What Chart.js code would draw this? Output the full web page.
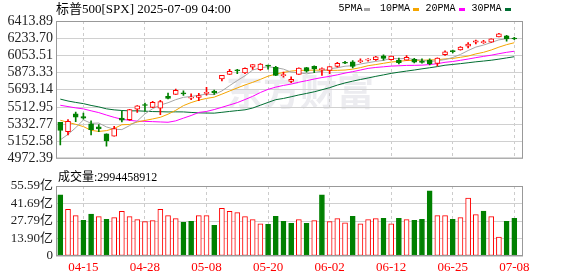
<!DOCTYPE html>
<html>
<head>
<meta charset="utf-8">
<script src="https://cdn.jsdelivr.net/npm/chart.js@4.4.0/dist/chart.umd.min.js"></script>
<style>
  body { margin: 0; background: #fff; }
  #wrap { position: relative; width: 578px; height: 276px; overflow: hidden; font-family: "Liberation Serif", "Noto Sans CJK SC", serif; color: #000; }
  #title { position: absolute; left: 56px; top: 0px; font-size: 13px; line-height: 17px; white-space: nowrap; }
  .lg { position: absolute; top: 2px; font-family: "Liberation Mono", monospace; font-size: 10px; line-height: 13px; white-space: nowrap; }
  .lgbox { position: absolute; top: 8px; width: 6px; height: 3px; }
  #volLabel { position: absolute; left: 58px; top: 169px; font-size: 12px; line-height: 16px; white-space: nowrap; }
  canvas { position: absolute; left: 0; }
</style>
</head>
<body>
<div id="wrap">
  <canvas id="priceChart" width="578" height="170" style="top:0"></canvas>
  <canvas id="volChart" width="578" height="106" style="top:170px"></canvas>
  <div id="title">标普500[SPX] 2025-07-09 04:00</div>
  <div id="legend"></div>
  <div id="volLabel">成交量:2994458912</div>
</div>
<script>
// trading days shown
const dates = ['04-10','04-11','04-14','04-15','04-16','04-17','04-21','04-22','04-23','04-24','04-25','04-28','04-29','04-30',
  '05-01','05-02','05-05','05-06','05-07','05-08','05-09','05-12','05-13','05-14','05-15','05-16','05-19','05-20','05-21','05-22','05-23','05-27','05-28','05-29','05-30',
  '06-02','06-03','06-04','06-05','06-06','06-09','06-10','06-11','06-12','06-13','06-16','06-17','06-18','06-20','06-23','06-24','06-25','06-26','06-27','06-30',
  '07-01','07-02','07-03','07-07','07-08'];
const dateTicks = ['04-15','04-28','05-08','05-20','06-02','06-12','06-25','07-08'];

const openP = [5353.15,5255.56,5441.96,5411.99,5335.75,5305.45,5232.94,5207.67,5395.93,5381.38,5489.73,5529.22,5508.87,5499.44,
  5625.14,5645.02,5655.32,5605.88,5613.16,5655.00,5679.15,5807.36,5854.29,5896.00,5869.19,5929.09,5902.88,5944.66,5928.37,5841.26,5781.89,5854.07,5925.54,5939.92,5903.67,
  5896.68,5938.56,5978.94,5985.67,5987.06,6004.60,6009.91,6049.38,6009.90,6000.56,6004.00,6012.15,5987.93,6004.60,5969.67,6061.21,6104.17,6112.10,6150.70,6193.36,
  6187.25,6193.23,6246.49,6259.75,6229.98];
const highP = [5353.15,5381.46,5459.46,5450.41,5367.24,5328.31,5232.94,5309.60,5469.69,5489.40,5528.11,5553.66,5571.95,5581.84,
  5658.91,5700.70,5683.56,5649.88,5654.94,5720.10,5691.33,5844.19,5906.63,5906.63,5924.21,5958.62,5968.61,5953.06,5939.92,5878.08,5829.51,5924.33,5929.00,5943.13,5922.14,
  5937.40,5981.35,5990.48,5999.70,6016.87,6021.31,6043.01,6059.40,6045.43,6026.16,6050.83,6023.25,6018.25,6018.20,6028.18,6101.81,6108.51,6146.52,6187.68,6215.08,
  6210.78,6227.60,6284.65,6262.67,6242.70];
const lowP = [5115.27,5220.77,5358.02,5386.44,5220.79,5255.58,5101.63,5207.67,5356.21,5371.96,5455.86,5468.64,5505.70,5433.24,
  5597.35,5644.77,5634.48,5589.08,5580.01,5635.68,5644.86,5786.08,5853.20,5862.19,5863.05,5907.28,5895.69,5909.26,5839.94,5825.82,5767.41,5854.07,5878.08,5873.80,5843.66,
  5861.43,5929.00,5966.11,5921.20,5978.63,5994.18,5999.87,6002.32,6003.88,5963.21,6004.00,5975.42,5971.89,5952.56,5943.23,6054.61,6080.07,6107.34,6132.35,6174.97,
  6177.97,6188.29,6246.49,6201.44,6217.68];
const closeP = [5268.05,5363.36,5405.97,5396.63,5275.70,5282.70,5158.20,5287.76,5375.86,5484.77,5525.21,5528.75,5560.83,5569.06,
  5604.14,5686.67,5650.38,5606.91,5631.28,5663.94,5659.91,5844.19,5886.55,5892.58,5916.93,5958.38,5963.60,5940.46,5844.61,5842.01,5802.82,5921.54,5888.55,5912.17,5911.69,
  5935.94,5970.37,5970.81,5939.30,6000.36,6005.88,6038.81,6022.24,6045.26,5976.97,6033.11,5982.72,5980.87,5967.84,6025.17,6092.18,6092.16,6141.02,6173.07,6204.95,
  6198.01,6227.42,6279.35,6229.98,6225.52];
const prevClose = 5456.90; // close before the first shown day

const ma5 = [5168.8,5226.6,5295.4,5378.2,5342.0,5345.0,5304.0,5280.4,5276.2,5318.0,5366.4,5440.6,5495.2,5533.8,5557.6,5590.0,5614.2,5623.4,5635.8,5647.8,
  5642.4,5681.2,5737.2,5789.6,5840.2,5899.8,5923.8,5934.4,5924.8,5909.8,5878.8,5870.4,5860.2,5873.6,5887.6,5914.2,5923.8,5940.2,5945.6,5963.2,
  5977.2,5991.0,6001.2,6022.4,6017.8,6023.2,6012.0,6003.8,5988.4,5998.0,6009.8,6031.6,6063.6,6104.6,6140.6,6161.8,6188.8,6216.4,6227.8,6232.0];
const ma10 = [5373.8,5352.0,5331.4,5307.8,5268.3,5256.9,5265.3,5287.9,5327.2,5330.0,5355.7,5372.3,5387.8,5405.0,5437.8,5478.2,5527.4,5559.3,5584.8,5602.7,
  5616.2,5647.7,5680.3,5712.7,5744.0,5771.1,5802.5,5835.8,5857.2,5875.0,5889.3,5897.1,5897.3,5899.2,5898.7,5896.5,5897.1,5900.2,5909.6,5925.4,
  5945.7,5957.4,5970.7,5984.0,5990.5,6000.2,6001.5,6002.5,6005.4,6007.9,6016.5,6021.8,6033.7,6046.5,6069.3,6085.8,6110.2,6140.0,6166.2,6186.3];
const ma20 = [5531.2,5517.4,5503.9,5493.0,5473.1,5454.1,5428.6,5404.6,5384.5,5373.2,5364.8,5362.2,5359.6,5356.4,5353.1,5367.6,5396.4,5423.6,5456.0,5466.4,
  5486.0,5510.0,5534.1,5558.9,5590.9,5624.7,5665.0,5697.6,5721.0,5738.9,5752.8,5772.4,5788.8,5806.0,5821.4,5833.8,5849.8,5868.0,5883.4,5900.2,
  5917.5,5927.3,5934.0,5941.6,5944.6,5948.4,5949.3,5951.4,5957.5,5966.7,5981.1,5989.6,6002.2,6015.3,6029.9,6043.0,6055.9,6071.3,6085.8,6097.1];
const ma30 = [5595.5,5575.8,5561.0,5548.3,5529.4,5514.2,5493.8,5482.9,5476.4,5472.6,5472.7,5469.0,5465.2,5463.7,5461.3,5462.1,5461.5,5456.1,5451.3,5449.7,
  5448.6,5457.3,5466.5,5475.2,5483.4,5502.1,5531.7,5561.0,5589.7,5602.6,5620.4,5639.0,5655.1,5672.3,5693.5,5715.3,5742.3,5765.1,5783.9,5801.0,
  5817.1,5834.1,5849.4,5865.3,5877.7,5889.3,5900.4,5912.8,5924.1,5936.1,5950.5,5958.8,5967.2,5976.6,5986.2,5994.2,6002.9,6014.2,6027.1,6039.9];

// volume in 亿 (1e8)
const volume = [48.6,37.0,32.1,28.3,33.2,31.3,29.1,30.5,35.4,31.3,28.9,27.3,28.1,37.0,32.1,29.7,26.7,27.5,32.1,32.1,
  24.3,37.8,35.4,34.5,31.3,28.9,25.6,25.1,31.6,27.5,25.9,28.9,25.9,28.1,48.6,27.3,29.7,26.4,31.6,25.6,
  28.9,29.7,30.0,25.6,30.0,28.9,28.3,29.1,51.8,32.1,32.1,29.1,30.5,45.9,32.9,35.6,31.3,15.1,27.5,29.94];

const priceTicks = ['4972.39','5152.58','5332.77','5512.95','5693.14','5873.33','6053.51','6233.70','6413.89'];
const volTicks = ['0','13.90','27.79','41.69','55.59'];

const maNames = ['5PMA','10PMA','20PMA','30PMA'];
const maColors = ['#a6a6a6','#f5a500','#ff00ff','#006e32'];

const RED = '#ff0000';
const GREEN = '#008000';
const X_MIN = -0.56, X_MAX = 60.13;
const tickIdx = dateTicks.map(d => dates.indexOf(d));

// legend (text then a small colour box, like the original)
const legendPos = [[338.5, 364], [380, 413], [425.5, 459], [471.5, 505]];
const legend = document.getElementById('legend');
maNames.forEach((name, i) => {
  const t = document.createElement('span');
  t.className = 'lg';
  t.style.left = legendPos[i][0] + 'px';
  t.textContent = name;
  legend.appendChild(t);
  const b = document.createElement('span');
  b.className = 'lgbox';
  b.style.left = legendPos[i][1] + 'px';
  b.style.background = maColors[i];
  legend.appendChild(b);
});

const candleUp = closeP.map((c, i) => c >= openP[i]);
const volUp = closeP.map((c, i) => c >= (i === 0 ? prevClose : closeP[i - 1]));

const frame = {
  id: 'frame',
  afterDraw(chart) {
    const { ctx, chartArea: a } = chart;
    ctx.save();
    ctx.strokeStyle = '#999';
    ctx.lineWidth = 1;
    ctx.strokeRect(a.left + 0.5, a.top + 0.5, a.right - a.left - 1, a.bottom - a.top - 1);
    ctx.restore();
  }
};

const watermark = {
  id: 'watermark',
  beforeDraw(chart) {
    const ctx = chart.ctx;
    ctx.save();
    ctx.fillStyle = '#ececf0';
    ctx.font = 'bold 37px "Noto Sans CJK SC"';
    ctx.textBaseline = 'middle';
    ctx.fillText('东方财富', 226, 92);
    ctx.restore();
  }
};

const labelFont = { family: '"Liberation Serif", "Noto Sans CJK SC", serif', size: 14 };

function xAxis(showLabels) {
  return {
    type: 'linear',
    min: X_MIN,
    max: X_MAX,
    offset: false,
    afterBuildTicks: (s) => { s.ticks = tickIdx.map(v => ({ value: v })); },
    afterFit: (s) => { s.height = showLabels ? 20 : 0; },
    grid: { color: '#cccccc', drawTicks: false, offset: false },
    border: { display: false, dash: [3, 3] },
    ticks: {
      display: showLabels,
      autoSkip: false,
      maxRotation: 0,
      padding: 4,
      color: RED,
      font: { family: labelFont.family, size: 13 },
      callback: (v) => dates[v]
    }
  };
}

new Chart(document.getElementById('priceChart'), {
  type: 'bar',
  data: {
    datasets: [
      ...maNames.map((name, i) => ({
        type: 'line',
        label: name,
        data: [ma5, ma10, ma20, ma30][i].map((v, k) => ({ x: k, y: v })),
        borderColor: maColors[i],
        borderWidth: 1,
        pointRadius: 0,
        tension: 0,
        order: 10 + i
      })),
      {
        label: 'wick',
        data: lowP.map((l, k) => ({ x: k, y: [l, highP[k]] })),
        backgroundColor: candleUp.map(u => u ? RED : GREEN),
        barThickness: 1,
        grouped: false,
        order: 2
      },
      {
        label: 'body',
        data: openP.map((o, k) => ({ x: k, y: [o, closeP[k]] })),
        backgroundColor: candleUp.map(u => u ? '#ffffff' : GREEN),
        borderColor: candleUp.map(u => u ? RED : GREEN),
        borderWidth: 1,
        borderSkipped: false,
        barThickness: 5,
        minBarLength: 1,
        grouped: false,
        order: 1
      }
    ]
  },
  options: {
    responsive: false,
    animation: false,
    layout: { padding: { left: 0, top: 21, right: 55, bottom: 4 } },
    scales: {
      x: xAxis(false),
      y: {
        min: 4972.39,
        max: 6413.89,
        beginAtZero: false,
        afterBuildTicks: (s) => { s.ticks = priceTicks.map(v => ({ value: Number(v) })); },
        afterFit: (s) => { s.width = 56; },
        grid: { color: '#d0d0d0', drawTicks: false },
        border: { display: false },
        ticks: {
          autoSkip: false,
          padding: 3,
          color: '#222',
          font: labelFont,
          callback: (v, i) => priceTicks[i]
        }
      }
    },
    plugins: {
      legend: { display: false },
      tooltip: { enabled: false }
    }
  },
  plugins: [watermark, frame]
});

new Chart(document.getElementById('volChart'), {
  type: 'bar',
  data: {
    datasets: [{
      label: '成交量',
      data: volume.map((v, k) => ({ x: k, y: v })),
      backgroundColor: volUp.map(u => u ? '#ffffff' : GREEN),
      borderColor: volUp.map(u => u ? RED : GREEN),
      borderWidth: 1,
      borderSkipped: false,
      barThickness: 5,
      grouped: false
    }]
  },
  options: {
    responsive: false,
    animation: false,
    layout: { padding: { left: 0, top: 16, right: 55, bottom: 0 } },
    scales: {
      x: xAxis(true),
      y: {
        min: 0,
        max: 55.59,
        afterBuildTicks: (s) => { s.ticks = volTicks.map(v => ({ value: Number(v) })); },
        afterFit: (s) => { s.width = 56; },
        grid: { color: '#d0d0d0', drawTicks: false },
        border: { display: false },
        ticks: {
          autoSkip: false,
          padding: 3,
          color: '#222',
          font: { family: labelFont.family, size: 13 },
          callback: (v, i) => (i === 0 ? '0' : volTicks[i] + '亿')
        }
      }
    },
    plugins: {
      legend: { display: false },
      tooltip: { enabled: false }
    }
  },
  plugins: [frame]
});
</script>
</body>
</html>
